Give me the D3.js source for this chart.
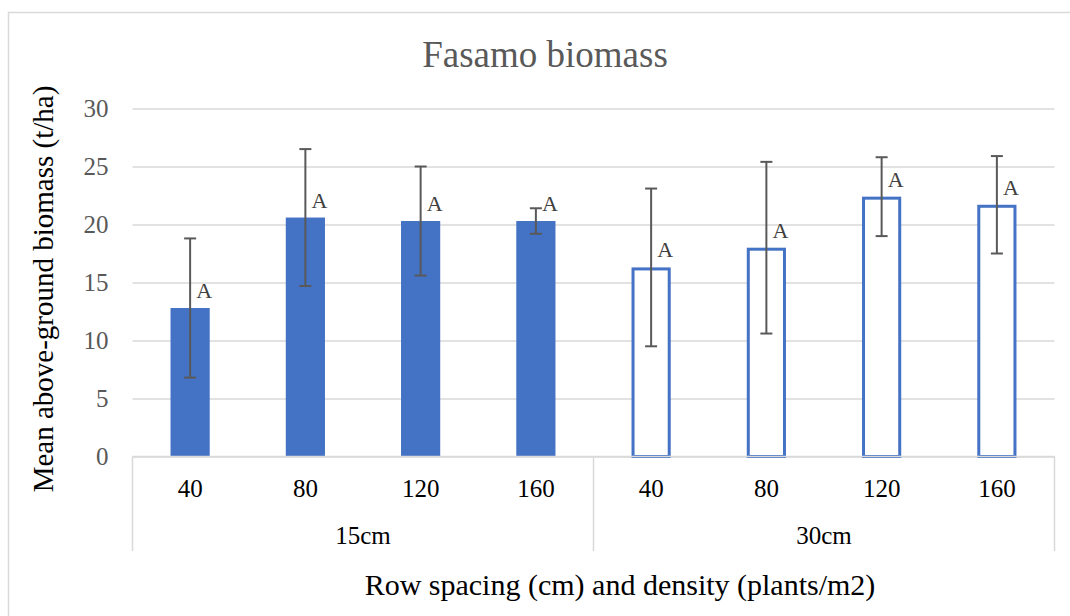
<!DOCTYPE html>
<html>
<head>
<meta charset="utf-8">
<script src="https://cdn.jsdelivr.net/npm/d3@7"></script>
<style>
  body { margin: 0; background: #fff; }
  text { font-family: "Liberation Serif", "Times New Roman", serif; }
</style>
</head>
<body>
<div id="chart"></div>
<script>
// Fasamo biomass: mean above-ground biomass by row spacing and density

var spacings = ['15cm', '30cm'];
var densities = ['40', '80', '120', '160'];
var means15 = [12.8, 20.6, 20.3, 20.3];
var means30 = [16.3, 18.0, 22.4, 21.7];
var errors15 = [6.0, 5.9, 4.7, 1.1];
var errors30 = [6.8, 7.4, 3.4, 4.2];
var letters15 = ['A', 'A', 'A', 'A'];
var letters30 = ['A', 'A', 'A', 'A'];
var yTicks = [0, 5, 10, 15, 20, 25, 30];

var width = 1070;
var height = 616;
var plotLeft = 132.5, plotRight = 1054.5, plotTop = 108.5, plotBottom = 456.5;
var barColor = '#4472C4';
var gridColor = '#d9d9d9';
var textGrey = '#595959';

// build the rows from the arrays
var data = [];
spacings.forEach(function (s, gi) {
  var means = gi === 0 ? means15 : means30;
  var errs = gi === 0 ? errors15 : errors30;
  var lets = gi === 0 ? letters15 : letters30;
  densities.forEach(function (d, i) {
    data.push({ key: s + '-' + d, spacing: s, density: d, mean: means[i], err: errs[i], letter: lets[i], filled: gi === 0 });
  });
});

var svg = d3.select('#chart').append('svg')
  .attr('width', width)
  .attr('height', height);

// chart frame (only left and top edges visible in the crop)
svg.append('rect')
  .attr('x', 8.5).attr('y', 12.5)
  .attr('width', 1080).attr('height', 640)
  .attr('fill', 'none')
  .attr('stroke', gridColor)
  .attr('stroke-width', 1.5);

var xScale = d3.scaleBand()
  .domain(data.map(d => d.key))
  .range([plotLeft, plotRight])
  .paddingInner(0.66)
  .paddingOuter(0.33);

var yScale = d3.scaleLinear()
  .domain([0, 30])
  .range([plotBottom, plotTop]);

// gridlines + y labels
var yAxis = d3.axisLeft(yScale)
  .tickValues(yTicks)
  .tickSize(-(plotRight - plotLeft))
  .tickPadding(24);

var gy = svg.append('g')
  .attr('transform', 'translate(' + plotLeft + ',0)')
  .call(yAxis);
gy.select('.domain').remove();
gy.selectAll('line').attr('stroke', gridColor).attr('stroke-width', 1.5);
gy.selectAll('text')
  .attr('fill', textGrey)
  .style('font-size', '25px')
  .style('font-family', '"Liberation Serif", serif');

// bars
var barG = svg.append('g');
barG.selectAll('rect')
  .data(data)
  .enter()
  .append('rect')
    .attr('x', d => d.filled ? xScale(d.key) : xScale(d.key) + 1.5)
    .attr('y', d => d.filled ? yScale(d.mean) : yScale(d.mean) + 1.5)
    .attr('width', d => d.filled ? xScale.bandwidth() : xScale.bandwidth() - 3)
    .attr('height', d => d.filled ? plotBottom - yScale(d.mean) : plotBottom - yScale(d.mean) - 1.5)
    .attr('fill', d => d.filled ? barColor : '#fff')
    .attr('stroke', d => d.filled ? 'none' : barColor)
    .attr('stroke-width', 3);

// error bars
var errG = svg.append('g')
  .attr('stroke', textGrey)
  .attr('stroke-width', 2);
var cx = d => xScale(d.key) + xScale.bandwidth() / 2;
errG.selectAll('.stem')
  .data(data).enter().append('line')
    .attr('x1', cx).attr('x2', cx)
    .attr('y1', d => yScale(d.mean + d.err))
    .attr('y2', d => yScale(d.mean - d.err));
errG.selectAll('.capTop')
  .data(data).enter().append('line')
    .attr('x1', d => cx(d) - 6).attr('x2', d => cx(d) + 6)
    .attr('y1', d => yScale(d.mean + d.err))
    .attr('y2', d => yScale(d.mean + d.err));
errG.selectAll('.capBot')
  .data(data).enter().append('line')
    .attr('x1', d => cx(d) - 6).attr('x2', d => cx(d) + 6)
    .attr('y1', d => yScale(d.mean - d.err))
    .attr('y2', d => yScale(d.mean - d.err));

// significance letters
svg.append('g').selectAll('text')
  .data(data).enter().append('text')
    .attr('x', d => cx(d) + 14)
    .attr('y', d => yScale(d.mean) - 10)
    .attr('text-anchor', 'middle')
    .attr('fill', '#404040')
    .style('font-size', '22px')
    .text(d => d.letter);

// category axis: baseline + group separators
svg.append('line')
  .attr('x1', plotLeft).attr('x2', plotRight)
  .attr('y1', plotBottom).attr('y2', plotBottom)
  .attr('stroke', gridColor).attr('stroke-width', 1.5);

var groupEdges = [plotLeft, xScale(data[4].key) - xScale.step() * xScale.paddingInner() / 2, plotRight];
svg.append('g').selectAll('line')
  .data(groupEdges).enter().append('line')
    .attr('x1', d => d).attr('x2', d => d)
    .attr('y1', plotBottom).attr('y2', 551)
    .attr('stroke', gridColor).attr('stroke-width', 1.5);

// density labels
svg.append('g').selectAll('text')
  .data(data).enter().append('text')
    .attr('x', cx)
    .attr('y', 497)
    .attr('text-anchor', 'middle')
    .attr('fill', '#000')
    .style('font-size', '25px')
    .text(d => d.density);

// spacing labels
svg.append('g').selectAll('text')
  .data(spacings).enter().append('text')
    .attr('x', (d, i) => (groupEdges[i] + groupEdges[i + 1]) / 2)
    .attr('y', 544)
    .attr('text-anchor', 'middle')
    .attr('fill', '#000')
    .style('font-size', '25px')
    .text(d => d);

// titles
svg.append('text')
  .attr('x', 545)
  .attr('y', 67)
  .attr('text-anchor', 'middle')
  .attr('fill', textGrey)
  .style('font-size', '37px')
  .text('Fasamo biomass');

svg.append('text')
  .attr('x', 620)
  .attr('y', 595)
  .attr('text-anchor', 'middle')
  .attr('fill', '#000')
  .style('font-size', '30px')
  .text('Row spacing (cm) and density (plants/m2)');

svg.append('text')
  .attr('transform', 'rotate(-90)')
  .attr('x', -289)
  .attr('y', 53)
  .attr('text-anchor', 'middle')
  .attr('fill', '#000')
  .style('font-size', '29px')
  .text('Mean above-ground biomass (t/ha)');
</script>
</body>
</html>
